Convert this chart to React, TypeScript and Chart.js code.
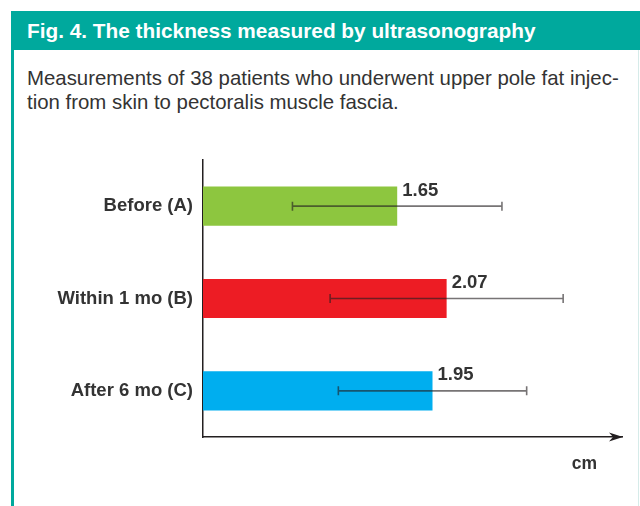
import React, { useEffect, useRef } from "react";
import { Chart, registerables } from "chart.js";

Chart.register(...registerables);

// ---- data ----
const categories = ["Before (A)", "Within 1 mo (B)", "After 6 mo (C)"];
const means = [1.65, 2.07, 1.95];
const sds = [0.89, 0.99, 0.8];
const valueLabels = ["1.65", "2.07", "1.95"];
const barColors = ["#8DC63F", "#ED1C24", "#00AEEF"];
const axisUnit = "cm";
const xMin = 0;
const xMax = 3.56;
const titleText = "Fig. 4. The thickness measured by ultrasonography";
const captionLines = [
  "Measurements of 38 patients who underwent upper pole fat injec-",
  "tion from skin to pectoralis muscle fascia.",
];

const FONT = "'Liberation Sans', Arial, sans-serif";
const TEAL = "#00A99D";
const INK = "#231F20";

const overlayPlugin = {
  id: "overlay",
  afterDatasetsDraw(chart: any) {
    const ctx = chart.ctx;
    const meta = chart.getDatasetMeta(0);
    const xs = chart.scales.x;
    meta.data.forEach((bar: any, i: number) => {
      const y = bar.y;
      const x0 = xs.getPixelForValue(means[i] - sds[i]);
      const x1 = xs.getPixelForValue(means[i] + sds[i]);
      ctx.save();
      ctx.strokeStyle = "rgba(35,31,32,0.62)";
      ctx.lineWidth = 1.6;
      ctx.beginPath();
      ctx.moveTo(x0, y);
      ctx.lineTo(x1, y);
      ctx.moveTo(x0, y - 4.5);
      ctx.lineTo(x0, y + 4.5);
      ctx.moveTo(x1, y - 4.5);
      ctx.lineTo(x1, y + 4.5);
      ctx.stroke();
      ctx.fillStyle = "#333";
      ctx.font = `bold 18.5px ${FONT}`;
      ctx.textAlign = "left";
      ctx.textBaseline = "alphabetic";
      ctx.fillText(valueLabels[i], bar.x + 5, y - 10.5);
      ctx.restore();
    });
  },
  afterDraw(chart: any) {
    const ctx = chart.ctx;
    const a = chart.chartArea;
    ctx.save();
    // arrow head at the end of the x axis
    ctx.fillStyle = INK;
    ctx.beginPath();
    ctx.moveTo(a.right + 1, a.bottom);
    ctx.lineTo(a.right - 13, a.bottom - 4.5);
    ctx.lineTo(a.right - 9, a.bottom);
    ctx.lineTo(a.right - 13, a.bottom + 4.5);
    ctx.closePath();
    ctx.fill();
    // unit label
    ctx.fillStyle = "#333";
    ctx.font = `bold 17.5px ${FONT}`;
    ctx.textAlign = "right";
    ctx.textBaseline = "middle";
    ctx.fillText(axisUnit, a.right - 25, a.bottom + 27);
    ctx.restore();
  },
};

function BarChart() {
  const ref = useRef<HTMLCanvasElement | null>(null);
  useEffect(() => {
    if (!ref.current) return;
    const chart = new Chart(ref.current, {
      type: "bar",
      data: {
        labels: categories,
        datasets: [
          {
            data: means,
            backgroundColor: barColors,
            borderWidth: 0,
            categoryPercentage: 1,
            barPercentage: 0.425,
          },
        ],
      },
      options: {
        indexAxis: "y",
        animation: false,
        responsive: false,
        devicePixelRatio: 1,
        layout: { padding: { left: 0, right: 18, top: 30, bottom: 0 } },
        plugins: {
          legend: { display: false },
          tooltip: { enabled: false },
          title: { display: false },
        },
        scales: {
          x: {
            min: xMin,
            max: xMax,
            grid: { display: false, drawTicks: false },
            ticks: { display: false },
            border: { display: true, color: INK, width: 1.5 },
            afterFit: (s: any) => {
              s.height = 69;
            },
          },
          y: {
            grid: { display: false, drawTicks: false },
            border: { display: true, color: INK, width: 1.5 },
            ticks: {
              color: "#333",
              padding: 10,
              font: { family: FONT, size: 18.5, weight: "bold" },
            },
            afterFit: (s: any) => {
              s.width = 189;
            },
          },
        },
      },
      plugins: [overlayPlugin],
    } as any);
    return () => chart.destroy();
  }, []);
  return (
    <canvas
      ref={ref}
      width={626}
      height={376}
      style={{ position: "absolute", left: 14, top: 130, width: 626, height: 376 }}
    />
  );
}

export default function App() {
  return (
    <div
      style={{
        position: "absolute",
        left: 0,
        top: 0,
        width: 640,
        height: 506,
        overflow: "hidden",
        background: "#fff",
        fontFamily: FONT,
      }}
    >
      <div
        style={{
          position: "absolute",
          left: 11,
          top: 11,
          width: 629,
          height: 39,
          background: TEAL,
        }}
      >
        <div
          style={{
            position: "absolute",
            left: 16,
            top: 0,
            lineHeight: "39px",
            fontSize: 20.8,
            fontWeight: "bold",
            color: "#fff",
            whiteSpace: "nowrap",
          }}
        >
          {titleText}
        </div>
      </div>
      <div
        style={{ position: "absolute", left: 11, top: 50, width: 3, height: 456, background: TEAL }}
      />
      <div
        style={{ position: "absolute", left: 638, top: 50, width: 1, height: 456, background: "#d6ebe9" }}
      />
      <div
        style={{
          position: "absolute",
          left: 27,
          top: 66,
          fontSize: 20.4,
          lineHeight: "24px",
          color: "#333",
          whiteSpace: "nowrap",
        }}
      >
        {captionLines.map((l, i) => (
          <div key={i}>{l}</div>
        ))}
      </div>
      <BarChart />
    </div>
  );
}
